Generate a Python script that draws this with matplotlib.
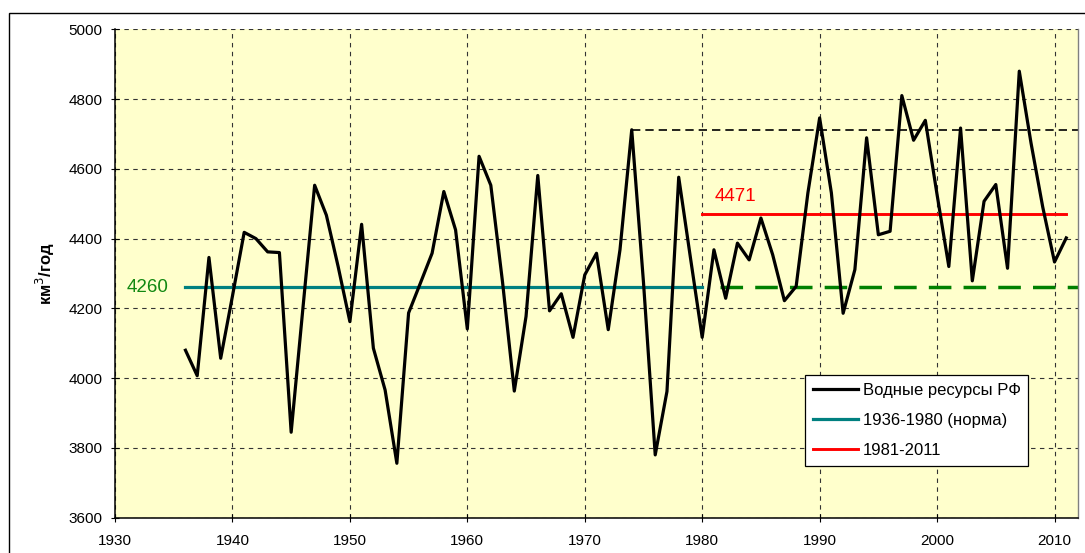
import matplotlib
matplotlib.use("Agg")
import matplotlib.pyplot as plt
from matplotlib.patches import Rectangle

plt.rcParams['font.family'] = ['Liberation Sans', 'DejaVu Sans']

# Annual water resources of Russia, km3/year
years = list(range(1936, 2012))
water = [
    4080, 4007, 4346, 4057, 4235, 4418, 4400, 4362, 4360, 3845,  # 1936-1945
    4200, 4553, 4467, 4320, 4162, 4441, 4086, 3966, 3756, 4187,  # 1946-1955
    4272, 4358, 4535, 4425, 4141, 4636, 4553, 4275, 3963, 4177,  # 1956-1965
    4581, 4193, 4242, 4117, 4296, 4358, 4139, 4368, 4712, 4275,  # 1966-1975
    3780, 3962, 4576, 4345, 4117, 4368, 4229, 4387, 4339, 4459,  # 1976-1985
    4354, 4222, 4263, 4531, 4746, 4531, 4186, 4311, 4689, 4411,  # 1986-1995
    4421, 4810, 4682, 4739, 4526, 4320, 4717, 4279, 4507, 4555,  # 1996-2005
    4315, 4880, 4674, 4490, 4333, 4402,                          # 2006-2011
]

norm_period = (1936, 1980)
norm_value = 4260
recent_period = (1980, 2011)
recent_value = 4471

series_label = "Водные ресурсы РФ"
norm_label = "1936-1980 (норма)"
recent_label = "1981-2011"
y_label = "км$^3$/год"

x_ticks = list(range(1930, 2011, 10))
y_ticks = list(range(3600, 5001, 200))

fig = plt.figure(figsize=(10.85, 5.53), dpi=100)
ax = fig.add_axes([115 / 1085, 1 - 517.7 / 553, (1078 - 115) / 1085, (517.7 - 29.3) / 553])
ax.set_facecolor('#FFFFCC')

# outer frame of the figure
fig.patches.append(Rectangle((9 / 1085, -0.05), 1.1, 1 - 13 / 553 + 0.05,
                             transform=fig.transFigure, fill=False,
                             edgecolor='black', linewidth=1.0, zorder=0))

ax.set_xlim(1930, 2012)
ax.set_ylim(3600, 5000)
ax.set_xticks(x_ticks)
ax.set_yticks(y_ticks)
ax.grid(True, color='#333333', linestyle=(0, (4, 4)), linewidth=0.8)
ax.set_axisbelow(True)

ax.tick_params(direction='inout', length=6, width=0.8, labelsize=11)
ax.tick_params(axis='x', pad=9)
ax.tick_params(axis='y', pad=6)
for side in ('left', 'bottom'):
    ax.spines[side].set_color('black')
    ax.spines[side].set_linewidth(1.1)
ax.spines['right'].set_color('#808080')
ax.spines['right'].set_linewidth(1.0)
ax.spines['top'].set_visible(False)

# maximum of the norm period carried forward
first_period = [v for y, v in zip(years, water) if norm_period[0] <= y <= norm_period[1]]
peak_year = years[water.index(max(first_period))]
ax.plot([peak_year, 2012], [max(first_period)] * 2, color='black',
        linewidth=1.2, linestyle=(0, (5, 3)), zorder=2)

# norm continued as a dashed reference
ax.plot([1981.5, 2012], [norm_value] * 2, color='#008000', linewidth=2.5,
        linestyle=(0, (6.5, 3.5)), zorder=2)

ax.plot(years, water, color='black', linewidth=2.3, label=series_label, zorder=4)
ax.plot(list(norm_period), [norm_value] * 2, color='#008080', linewidth=2.3,
        label=norm_label, zorder=3)
ax.plot(list(recent_period), [recent_value] * 2, color='#FF0000', linewidth=2.1,
        label=recent_label, zorder=3)

ax.text(1931.0, norm_value, f"{norm_value}", color='#118811', fontsize=13.5,
        va='center', ha='left')
ax.text(1981.1, recent_value + 50, f"{recent_value}", color='#FF0000', fontsize=13.5,
        va='center', ha='left')

ax.set_ylabel(y_label, fontsize=12, fontweight='bold', labelpad=8)

leg = ax.legend(loc='upper left', bbox_to_anchor=(0.717, 0.292), fontsize=12,
                frameon=True, fancybox=False, edgecolor='black', framealpha=1,
                handlelength=2.7, handletextpad=0.3, labelspacing=0.92,
                borderpad=0.45, borderaxespad=0)
leg.get_frame().set_linewidth(0.9)

fig.savefig('out.png', dpi=100)
